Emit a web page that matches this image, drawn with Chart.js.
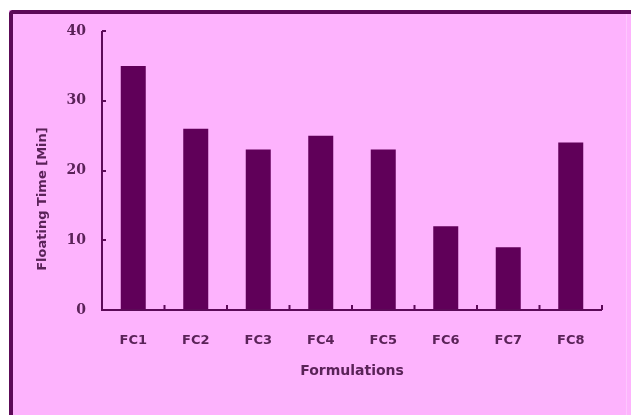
<!DOCTYPE html>
<html>
<head>
<meta charset="utf-8">
<script src="https://cdn.jsdelivr.net/npm/chart.js@4/dist/chart.umd.min.js"></script>
<style>
  html, body { margin: 0; padding: 0; background: #ffffff; overflow: hidden; }
  #wrap { width: 631px; height: 415px; }
  canvas { display: block; }
</style>
</head>
<body>
<div id="wrap"><canvas id="c" width="631" height="415"></canvas></div>
<script>
// Floating time of each formulation, in minutes
const formulations = ['FC1', 'FC2', 'FC3', 'FC4', 'FC5', 'FC6', 'FC7', 'FC8'];
const floatingTime = [35, 26, 23, 25, 23, 12, 9, 24];
const yTicks = [0, 10, 20, 30, 40];
const xTitle = 'Formulations';
const yTitle = 'Floating Time [Min]';

const PINK = '#fdb3fd';
const DARK = '#5c0a58';
const BAR = '#600059';
const LABEL = '#5a2258';

// Pink panel with a dark frame on the top and left edges only
const panel = {
  id: 'panel',
  beforeDraw(chart) {
    const ctx = chart.ctx;
    const W = chart.width, H = chart.height;
    ctx.save();
    ctx.fillStyle = '#ffffff';
    ctx.fillRect(0, 0, W, H);
    ctx.fillStyle = PINK;
    ctx.fillRect(9, 10, W - 9, H - 10);
    ctx.fillStyle = DARK;
    ctx.fillRect(12, 10, W - 12, 4);   // top edge
    ctx.fillRect(9, 13, 4, H - 13);    // left edge
    ctx.beginPath();                   // rounded corner
    ctx.arc(13, 14, 4, Math.PI, 1.5 * Math.PI);
    ctx.lineTo(13, 14);
    ctx.closePath();
    ctx.fill();
    ctx.restore();
  },
  afterDraw(chart) {
    // keep the open right and bottom edges of the panel plain pink
    const ctx = chart.ctx;
    const W = chart.width, H = chart.height;
    ctx.save();
    ctx.fillStyle = PINK;
    ctx.fillRect(W - 6, 14, 6, H - 14);
    ctx.fillRect(13, H - 5, W - 13, 5);
    ctx.fillStyle = 'rgba(255,255,255,0.25)';
    ctx.fillRect(626, 14, 1, H - 14);
    ctx.restore();
  }
};

// Axis lines with short inward tick marks, plus both axis titles
const axes = {
  id: 'axes',
  afterDatasetsDraw(chart) {
    const ctx = chart.ctx;
    const x = chart.scales.x, y = chart.scales.y;
    const left = x.left, right = x.right, top = y.top, bottom = y.bottom;
    ctx.save();
    ctx.strokeStyle = DARK;
    ctx.lineWidth = 2;
    ctx.beginPath();
    ctx.moveTo(left, top);
    ctx.lineTo(left, bottom);
    ctx.lineTo(right, bottom);
    ctx.stroke();
    ctx.beginPath();
    yTicks.slice(1).forEach(v => {
      const py = Math.round(y.getPixelForValue(v));
      ctx.moveTo(left, py);
      ctx.lineTo(left + 4, py);
    });
    for (let i = 0; i < formulations.length; i++) {
      const px = i < formulations.length - 1
        ? (x.getPixelForTick(i) + x.getPixelForTick(i + 1)) / 2
        : right;
      ctx.moveTo(px, bottom);
      ctx.lineTo(px, bottom - 5);
    }
    ctx.stroke();

    ctx.fillStyle = LABEL;
    ctx.textAlign = 'center';
    ctx.textBaseline = 'middle';
    ctx.font = 'bold 14px "DejaVu Sans"';
    ctx.fillText(xTitle, (left + right) / 2, 371);
    ctx.font = 'bold 13px "DejaVu Sans"';
    ctx.translate(43, 199);
    ctx.rotate(-Math.PI / 2);
    ctx.fillText(yTitle, 0, 0);
    ctx.restore();
  }
};

new Chart(document.getElementById('c'), {
  type: 'bar',
  data: {
    labels: formulations,
    datasets: [{
      data: floatingTime,
      backgroundColor: BAR,
      borderWidth: 0,
      barPercentage: 0.4,
      categoryPercentage: 1.0
    }]
  },
  options: {
    responsive: false,
    animation: false,
    devicePixelRatio: 1,
    layout: { padding: { top: 31, right: 29, left: 0, bottom: 0 } },
    plugins: { legend: { display: false }, tooltip: { enabled: false } },
    scales: {
      x: {
        afterFit: s => { s.height = 105; },
        grid: { display: false, drawTicks: false },
        border: { display: false },
        ticks: {
          color: LABEL,
          padding: 23,
          font: { family: '"DejaVu Sans"', size: 13, weight: 'bold' }
        }
      },
      y: {
        min: 0,
        max: 40,
        afterFit: s => { s.width = 102; },
        afterBuildTicks: s => { s.ticks = yTicks.map(v => ({ value: v })); },
        grid: { display: false, drawTicks: false },
        border: { display: false },
        ticks: {
          color: LABEL,
          padding: 16,
          font: { family: '"DejaVu Serif"', size: 14, weight: 'bold' }
        }
      }
    }
  },
  plugins: [panel, axes]
});
</script>
</body>
</html>
